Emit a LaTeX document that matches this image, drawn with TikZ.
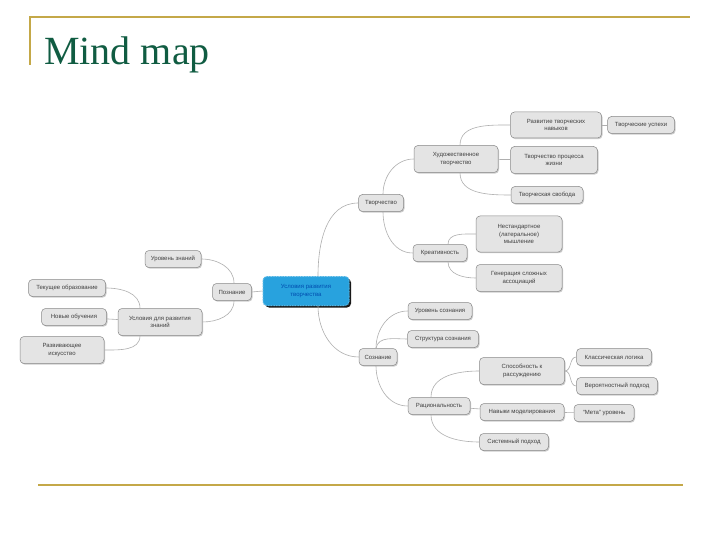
\documentclass[tikz,border=0pt]{standalone}
\usepackage{fontspec}
\setmainfont{Liberation Sans}
\newfontfamily\titlefont{Liberation Serif}
\usetikzlibrary{shadows}

\definecolor{framegold}{RGB}{196,168,72}
\definecolor{titlegreen}{RGB}{16,92,66}
\definecolor{ideafill}{RGB}{228,228,228}
\definecolor{ideaedge}{RGB}{135,135,135}
\definecolor{linkgray}{RGB}{175,175,175}
\definecolor{centerblue}{RGB}{40,162,222}

\tikzset{
    idea/.style={draw=ideaedge, fill=ideafill, rounded corners=4pt, line width=0.5pt,
        font=\fontsize{6}{7.5}\selectfont, text=black!75, align=center,
        minimum height=17pt, inner xsep=3pt, inner ysep=2pt,
        drop shadow={shadow xshift=1pt, shadow yshift=-1.2pt, opacity=0.4}},
    centre/.style={draw=centerblue!80!white, fill=centerblue, rounded corners=4pt,
        dash pattern=on 1pt off 0.6pt, line width=1pt,
        font=\fontsize{6}{7.5}\selectfont, text=black!45!blue!70!cyan, align=center,
        minimum width=86pt, minimum height=29pt,
        drop shadow={shadow xshift=2pt, shadow yshift=-2pt, opacity=0.9, fill=black}},
    link/.style={draw=linkgray, line width=0.6pt}
}

\begin{document}
\begin{tikzpicture}[x=1pt, y=-1pt]
    \useasboundingbox[fill=white] (0,0) rectangle (720,540);

    % frame and title
    \draw[framegold, line width=1.5pt] (30,65) -- (30,17) -- (690,17);
    \draw[framegold, line width=1.5pt] (38,485) -- (683,485);
    \node[font=\titlefont\fontsize{40}{44}\selectfont, text=titlegreen, anchor=base west, inner sep=0pt]
        (title) at (44,65) {Mind map};

    % centre
    \node[centre] (root) at (306,291) {Условия развития\\творчества};

    % left branch
    \node[idea, minimum width=39pt] (poznanie) at (232,292) {Познание};
    \node[idea, minimum width=56pt] (urznan) at (173,259) {Уровень знаний};
    \node[idea, minimum width=84pt, minimum height=27pt] (uslov) at (160,322) {Условия для развития\\знаний};
    \node[idea, minimum width=77pt] (tekush) at (67,288) {Текущее образование};
    \node[idea, minimum width=65pt] (novye) at (74,317) {Новые обучения};
    \node[idea, minimum width=84pt, minimum height=27pt] (razviv) at (62,350) {Развивающее\\искусство};

    % upper right branch
    \node[idea, minimum width=45pt] (tvorch) at (381,203) {Творчество};
    \node[idea, minimum width=84pt, minimum height=27pt] (hudozh) at (456,159) {Художественное\\творчество};
    \node[idea, minimum width=91pt, minimum height=26pt] (navyki) at (556,125) {Развитие творческих\\навыков};
    \node[idea, minimum width=67pt] (uspehi) at (641,125) {Творческие успехи};
    \node[idea, minimum width=87pt, minimum height=27pt] (zhizn) at (554,160) {Творчество процесса\\жизни};
    \node[idea, minimum width=72pt] (svoboda) at (547,195) {Творческая свобода};
    \node[idea, minimum width=54pt] (kreativ) at (440,253) {Креативность};
    \node[idea, minimum width=86pt, minimum height=36pt] (nestand) at (519,234) {Нестандартное\\(латеральное)\\мышление};
    \node[idea, minimum width=86pt, minimum height=27pt] (generac) at (519,278) {Генерация сложных\\ассоциаций};

    % lower right branch
    \node[idea, minimum width=38pt] (soznan) at (378,357) {Сознание};
    \node[idea, minimum width=64pt] (urszn) at (440,311) {Уровень сознания};
    \node[idea, minimum width=71pt] (strukt) at (443,339) {Структура сознания};
    \node[idea, minimum width=62pt] (racion) at (439,406) {Рациональность};
    \node[idea, minimum width=85pt, minimum height=27pt] (sposob) at (522,371) {Способность к\\рассуждению};
    \node[idea, minimum width=75pt] (klass) at (614,357) {Классическая логика};
    \node[idea, minimum width=81pt] (veroyat) at (617,386) {Вероятностный подход};
    \node[idea, minimum width=84pt] (modelir) at (522,412) {Навыки моделирования};
    \node[idea, minimum width=60pt] (meta) at (604,413) {\char"201C Мета\char"201D{} уровень};
    \node[idea, minimum width=69pt] (sistem) at (514,442) {Системный подход};

    % links
    \draw[link] ([xshift=12pt]root.north) to[out=90, in=180] (tvorch.west);
    \draw[link] ([xshift=12pt]root.south) to[out=-90, in=180] (soznan.west);
    \draw[link] (root.west) -- (poznanie.east);
    \draw[link] ([xshift=2pt]poznanie.north) to[out=90, in=0] (urznan.east);
    \draw[link] ([xshift=2pt]poznanie.south) to[out=-90, in=0] (uslov.east);
    \draw[link] ([xshift=-20pt]uslov.north) to[out=90, in=0] (tekush.east);
    \draw[link] ([xshift=-20pt]uslov.south) to[out=-90, in=0] (razviv.east);
    \draw[link] ([xshift=2pt]tvorch.north) to[out=90, in=180] (hudozh.west);
    \draw[link] ([xshift=2pt]tvorch.south) to[out=-90, in=180] (kreativ.west);
    \draw[link] ([xshift=4pt]hudozh.north) to[out=90, in=180] (navyki.west);
    \draw[link] ([xshift=4pt]hudozh.south) to[out=-90, in=180] (svoboda.west);
    \draw[link] ([xshift=8pt]kreativ.north) to[out=90, in=180] (nestand.west);
    \draw[link] ([xshift=8pt]kreativ.south) to[out=-90, in=180] (generac.west);
    \draw[link] ([xshift=-2pt]soznan.north) to[out=90, in=180] (urszn.west);
    \draw[link] ([xshift=-2pt]soznan.north) to[out=80, in=180] (strukt.west);
    \draw[link] ([xshift=-2pt]soznan.south) to[out=-90, in=180] (racion.west);
    \draw[link] ([xshift=-8pt]racion.north) to[out=90, in=180] (sposob.west);
    \draw[link] ([xshift=-8pt]racion.south) to[out=-90, in=180] (sistem.west);
    \draw[link] (sposob.east) to[out=0, in=180] (klass.west);
    \draw[link] (sposob.east) to[out=0, in=180] (veroyat.west);
    \foreach \a/\b in {navyki/uspehi, hudozh/zhizn, uslov/novye, racion/modelir, modelir/meta} {
        \draw[link] (\a) -- (\b);
    }
\end{tikzpicture}
\end{document}
